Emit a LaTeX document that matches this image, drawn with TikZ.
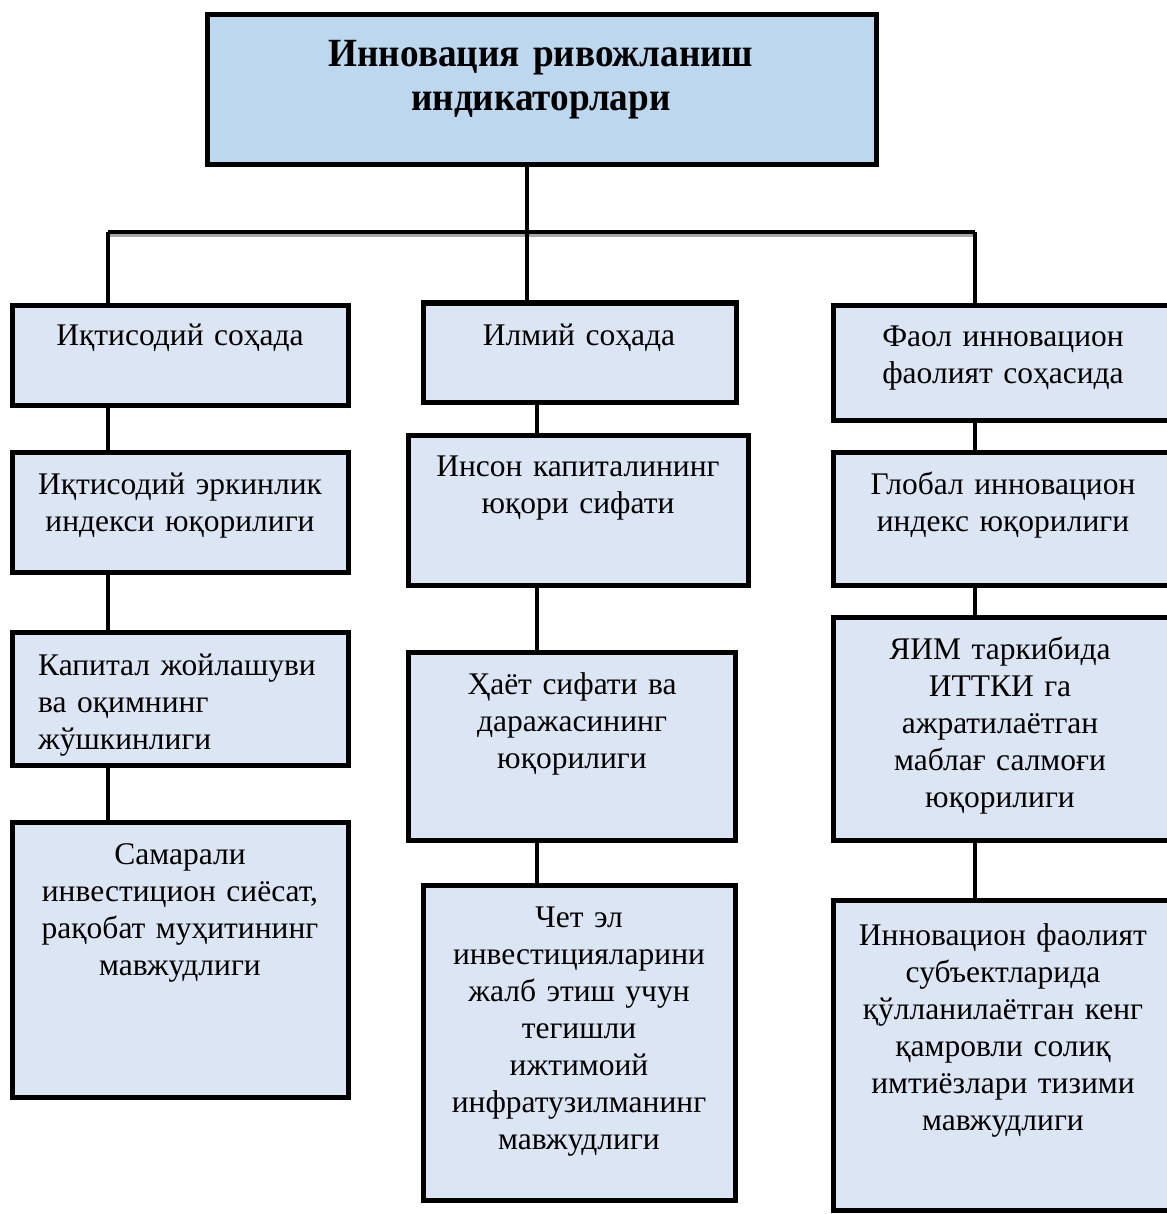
\documentclass[tikz,border=0pt]{standalone}
\usepackage{fontspec}
\setmainfont{Liberation Serif}
\newfontfamily\titlefont[FakeStretch=0.93]{Liberation Serif}
\definecolor{topfill}{HTML}{BDD7EE}
\definecolor{boxfill}{HTML}{DCE5F3}
\begin{document}
\begin{tikzpicture}[x=1pt,y=-1pt,
  box/.style={draw=black, line width=5pt, fill=boxfill, anchor=north west, inner sep=0pt, outer sep=0pt},
  txt/.style={anchor=base, align=center, text width=345pt, inner sep=0pt, font=\fontsize{31.5}{37}\selectfont},
  ltxt/.style={anchor=base west, align=left, text width=310pt, inner sep=0pt, font=\fontsize{31.5}{37}\selectfont},
  ttxt/.style={anchor=base, align=center, text width=640pt, inner sep=0pt, font=\titlefont\bfseries\fontsize{40}{44}\selectfont},
  conn/.style={line width=4pt}]
\useasboundingbox[fill=white] (0,0) rectangle (1166,1214);

% top
\node[box, fill=topfill, minimum width=669pt, minimum height=150pt] (top) at (207,15) {};
\node[ttxt] (ttop) at (541,67) {Инновация ривожланиш\\индикаторлари};

% bus
\coordinate (hubL) at (108,232);
\coordinate (hubM) at (527,232);
\coordinate (hubR) at (975,232);
\draw[line width=5pt, black!35] ([yshift=-3pt]hubL) -- ([yshift=-3pt]hubR);
\draw[conn] (hubL) -- (hubR);

% left column
\node[box, minimum width=336pt, minimum height=100pt] (L1) at (12,305) {};
\node[txt] (tL1) at (180,345) {Иқтисодий соҳада};
\node[box, minimum width=336pt, minimum height=120pt] (L2) at (12,452) {};
\node[txt] (tL2) at (180,494) {Иқтисодий эркинлик\\индекси юқорилиги};
\node[box, minimum width=336pt, minimum height=133pt] (L3) at (12,632) {};
\node[ltxt] (tL3) at (38,675) {Капитал жойлашуви\\ва оқимнинг\\жўшкинлиги};
\node[box, minimum width=336pt, minimum height=275pt] (L4) at (12,822) {};
\node[txt] (tL4) at (180,864) {Самарали\\инвестицион сиёсат,\\рақобат муҳитининг\\мавжудлиги};

% middle column
\node[box, minimum width=313pt, minimum height=99pt] (M1) at (423,303) {};
\node[txt] (tM1) at (579,345) {Илмий соҳада};
\node[box, minimum width=340pt, minimum height=150pt] (M2) at (408,435) {};
\node[txt] (tM2) at (578,476) {Инсон капиталининг\\юқори сифати};
\node[box, minimum width=327pt, minimum height=188pt] (M3) at (408,652) {};
\node[txt] (tM3) at (572,694) {Ҳаёт сифати ва\\даражасининг\\юқорилиги};
\node[box, minimum width=312pt, minimum height=315pt] (M4) at (423,885) {};
\node[txt] (tM4) at (579,927) {Чет эл\\инвестицияларини\\жалб этиш учун\\тегишли\\ижтимоий\\инфратузилманинг\\мавжудлиги};

% right column
\node[box, minimum width=340pt, minimum height=115pt] (R1) at (833,305) {};
\node[txt] (tR1) at (1003,346) {Фаол инновацион\\фаолият соҳасида};
\node[box, minimum width=340pt, minimum height=133pt] (R2) at (833,452) {};
\node[txt] (tR2) at (1003,494) {Глобал инновацион\\индекс юқорилиги};
\node[box, minimum width=340pt, minimum height=223pt] (R3) at (833,617) {};
\node[txt] (tR3) at (1000,659) {ЯИМ таркибида\\ИТТКИ га\\ажратилаётган\\маблағ салмоғи\\юқорилиги};
\node[box, minimum width=340pt, minimum height=310pt] (R4) at (833,900) {};
\node[txt] (tR4) at (1003,945) {Инновацион фаолият\\субъектларида\\қўлланилаётган кенг\\қамровли солиқ\\имтиёзлари тизими\\мавжудлиги};

% connectors
\draw[conn] (top.south -| hubM) -- (hubM);
\draw[conn] (hubM) -- (hubM |- M1.north);
\draw[conn] (hubL) -- (hubL |- L1.north);
\draw[conn] (hubR) -- (hubR |- R1.north);

\draw[conn] (L1.south -| hubL) -- (L2.north -| hubL);
\draw[conn] (L2.south -| hubL) -- (L3.north -| hubL);
\draw[conn] (L3.south -| hubL) -- (L4.north -| hubL);

\coordinate (colM) at (537,232);
\draw[conn] (M1.south -| colM) -- (M2.north -| colM);
\draw[conn] (M2.south -| colM) -- (M3.north -| colM);
\draw[conn] (M3.south -| colM) -- (M4.north -| colM);

\draw[conn] (R1.south -| hubR) -- (R2.north -| hubR);
\draw[conn] (R2.south -| hubR) -- (R3.north -| hubR);
\draw[conn] (R3.south -| hubR) -- (R4.north -| hubR);
\end{tikzpicture}
\end{document}
